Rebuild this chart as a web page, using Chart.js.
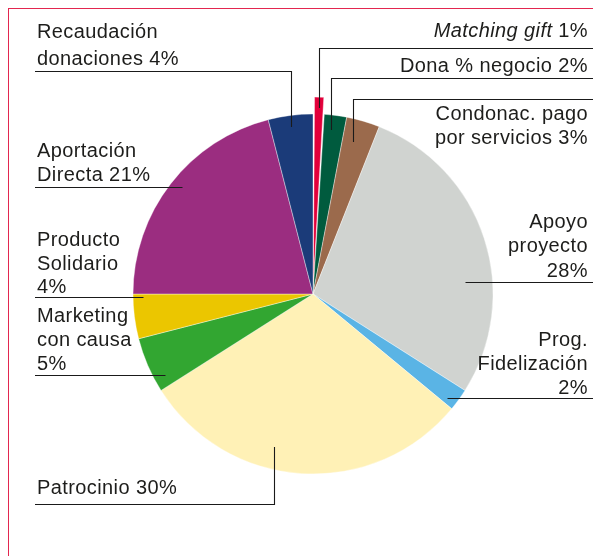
<!DOCTYPE html>
<html>
<head>
<meta charset="utf-8">
<script src="https://cdn.jsdelivr.net/npm/chart.js@4"></script>
<style>
  html, body { margin: 0; padding: 0; background: #fff; }
  #wrap { position: relative; width: 593px; height: 556px; }
  #frame {
    position: absolute; left: 8px; top: 8px; right: 0; bottom: 0;
    border-left: 1.5px solid #e3264f; border-top: 1.5px solid #e3264f;
    pointer-events: none;
  }
</style>
</head>
<body>
<div id="wrap">
  <canvas id="donationChart"></canvas>
  <div id="frame"></div>
</div>
<script>
// ================= DATA =================

const categories = [
  'Matching gift', 'Dona % negocio', 'Condonac. pago por servicios',
  'Apoyo proyecto', 'Prog. Fidelización', 'Patrocinio',
  'Marketing con causa', 'Producto Solidario', 'Aportación Directa',
  'Recaudación donaciones'
];
const shares = [1, 2, 3, 28, 2, 30, 5, 4, 21, 4];

const sliceColors = [
  '#e2003a', '#005b3e', '#9b6a4c', '#d0d3d0', '#5ab4e5',
  '#fff1b6', '#32a631', '#ebc600', '#9b2d80', '#1b3b79'
];

// ================= LABEL LAYOUT =================
// {v} is replaced by the share of that slice
// t = position across the slice, f = fraction of radius for the leader end

const labelLayout = [
  { align: 'right', x: 588, baselines: [37], lineY: 48, t: 0.5, f: 0.942, elbow: true,
    lines: [[{ text: 'Matching gift', italic: true }, { text: ' {v}' }]] },
  { align: 'right', x: 588, baselines: [72], lineY: 78, t: 0.37, f: 0.917, elbow: true,
    lines: ['Dona % negocio {v}'] },
  { align: 'right', x: 588, baselines: [120, 144], lineY: 99, t: 0.36, f: 0.873, elbow: true,
    lines: ['Condonac. pago', 'por servicios {v}'] },
  { align: 'right', x: 588, baselines: [228, 252, 277], lineY: 282, t: 0.63, f: 0.847,
    lines: ['Apoyo', 'proyecto', '{v}'] },
  { align: 'right', x: 588, baselines: [346, 370, 394], lineY: 398, t: 0.75, f: 0.94,
    lines: ['Prog.', 'Fidelización', '{v}'] },
  { align: 'left', x: 37, baselines: [494], lineY: 504, t: 0.599, f: 0.877, elbow: true,
    lines: ['Patrocinio {v}'] },
  { align: 'left', x: 37, baselines: [322, 346, 370], lineY: 375, t: 0.21, f: 0.937,
    lines: ['Marketing', 'con causa', '{v}'] },
  { align: 'left', x: 37, baselines: [246, 270, 293], lineY: 297, t: 0.95, f: 0.944,
    lines: ['Producto', 'Solidario', '{v}'] },
  { align: 'left', x: 37, baselines: [157, 181], lineY: 187, t: 0.52, f: 0.94,
    lines: ['Aportación', 'Directa {v}'] },
  { align: 'left', x: 37, baselines: [38, 65], lineY: 71, t: 0.48, f: 0.936, elbow: true,
    lines: ['Recaudación', 'donaciones {v}'] }
];

const FONT_FAMILY = '"Liberation Sans", Arial, sans-serif';
const FONT_SIZE = 20;

// ================= LABEL PLUGIN =================

const leaderLabels = {
  id: 'leaderLabels',
  afterDraw(chart) {
    const ctx = chart.ctx;
    const meta = chart.getDatasetMeta(0);

    ctx.save();
    labelLayout.forEach((lab, i) => {
      const arc = meta.data[i];
      if (!arc) return;
      const p = arc.getProps(['x', 'y', 'startAngle', 'endAngle', 'outerRadius'], true);
      // same offset handling as the arc element itself
      const offset = (arc.options.offset || 0) / 4;
      const mid = (p.startAngle + p.endAngle) / 2;
      const circ = p.endAngle - p.startAngle;
      const fix = 1 - Math.sin(Math.min(Math.PI, circ));
      const cx = p.x + Math.cos(mid) * offset;
      const cy = p.y + Math.sin(mid) * offset;
      const r = (p.outerRadius + offset * fix) * lab.f;
      const a = p.startAngle + lab.t * circ;
      const ax = cx + Math.cos(a) * r;
      const ay = cy + Math.sin(a) * r;

      // leader line
      const edgeX = lab.align === 'left' ? 35 : 593;
      const ly = Math.round(lab.lineY) + 0.5;
      const lx = Math.round(ax) + 0.5;
      ctx.strokeStyle = '#1a1a1a';
      ctx.lineWidth = 1.1;
      ctx.beginPath();
      ctx.moveTo(edgeX, ly);
      ctx.lineTo(lx, ly);
      if (lab.elbow) ctx.lineTo(lx, Math.round(ay));
      ctx.stroke();

      // text
      ctx.fillStyle = '#1d1d1b';
      ctx.textBaseline = 'alphabetic';
      if ('letterSpacing' in ctx) ctx.letterSpacing = '0.4px';
      lab.lines.forEach((line, k) => {
        const segs = (Array.isArray(line) ? line : [{ text: line }]).map(s => ({
          text: s.text.replace('{v}', shares[i] + '%'),
          font: (s.italic ? 'italic ' : '') + FONT_SIZE + 'px ' + FONT_FAMILY
        }));
        let total = 0;
        segs.forEach(s => { ctx.font = s.font; s.w = ctx.measureText(s.text).width; total += s.w; });
        let x = lab.align === 'left' ? lab.x : lab.x - total;
        ctx.textAlign = 'left';
        segs.forEach(s => {
          ctx.font = s.font;
          ctx.fillText(s.text, x, lab.baselines[k]);
          x += s.w;
        });
      });
      if ('letterSpacing' in ctx) ctx.letterSpacing = '0px';
    });
    ctx.restore();
  }
};

// ================= PIE CHART =================

const ctx = document.getElementById('donationChart');

new Chart(ctx, {
  type: 'pie',
  data: {
    labels: categories,
    datasets: [{
      data: shares,
      backgroundColor: sliceColors,
      borderColor: 'rgba(255,255,255,0.55)',
      borderWidth: 0.7,
      offset: shares.map((v, i) => i === 0 ? 35 : 0),
      radius: 180
    }]
  },
  options: {
    responsive: true,
    maintainAspectRatio: false,
    animation: false,
    rotation: 0,
    layout: { padding: { left: 33, right: 0, top: 32, bottom: 0 } },
    plugins: {
      legend: { display: false },
      tooltip: { enabled: false }
    }
  },
  plugins: [leaderLabels]
});
</script>
</body>
</html>
